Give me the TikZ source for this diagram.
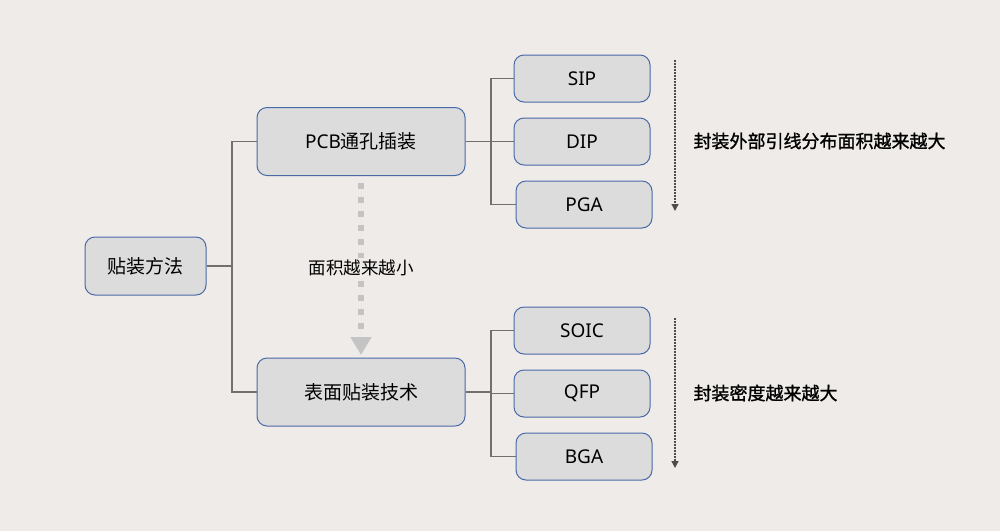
\documentclass[tikz,border=0pt]{standalone}
\usepackage{fontspec}
\setmainfont{Noto Sans CJK SC}
\newfontfamily\lat{Noto Sans}
\newfontfamily\cjkmed[FakeBold=1.2]{Noto Sans CJK SC}
\usetikzlibrary{arrows.meta}
\definecolor{bgc}{HTML}{EEEBE8}
\definecolor{boxfill}{HTML}{DCDCDC}
\definecolor{boxline}{HTML}{4A69A8}
\definecolor{connc}{HTML}{707070}
\definecolor{bigarrow}{HTML}{C4C4C4}
\tikzset{
  box/.style={draw=boxline, fill=boxfill, line width=1pt, rounded corners=10pt, font=\fontsize{19}{22}\selectfont, text=black},
  leaf/.style={box, minimum width=136pt, minimum height=47pt, font=\fontsize{19}{22}\selectfont\lat},
  mid/.style={box, minimum width=208pt, minimum height=68pt},
  conn/.style={draw=connc, line width=1.2pt},
  thinarrow/.style={draw=black!70, line width=1.3pt, dash pattern=on 1.5pt off 1.5pt, -{Triangle[width=7pt,length=7pt]}},
  note/.style={font=\fontsize{18}{21}\selectfont\cjkmed, anchor=west, text=black},
}
\begin{document}
\begin{tikzpicture}[x=1pt,y=-1pt]
\fill[bgc] (0,0) rectangle (1000,531);
\useasboundingbox (0,0) rectangle (1000,531);

\node[box, minimum width=121pt, minimum height=58pt] (root) at (145.5,266) {贴装方法};
\node[mid] (pcb) at (361,141.5) {{\lat PCB}通孔插装};
\node[mid] (smt) at (361,392) {表面贴装技术};

\node[leaf] (sip) at (582,78.5) {SIP};
\node[leaf] (dip) at (582,141.5) {DIP};
\node[leaf] (pga) at (584,204.5) {PGA};
\node[leaf] (soic) at (582,330.5) {SOIC};
\node[leaf] (qfp) at (582,393.5) {QFP};
\node[leaf] (bga) at (584,456.5) {BGA};

\coordinate (j1) at (232,266);
\coordinate (j2) at (491,141.5);
\coordinate (j3) at (491,392);

\draw[conn] (root.east) -- (j1);
\draw[conn] (j1) |- (pcb.west);
\draw[conn] (j1) |- (smt.west);

\draw[conn] (pcb.east) -- (j2);
\draw[conn] (j2) |- (sip.west);
\draw[conn] (j2) |- (dip.west);
\draw[conn] (j2) |- (pga.west);

\draw[conn] (smt.east) -- (j3);
\draw[conn] (j3) |- (soic.west);
\draw[conn] (j3) |- (qfp.west);
\draw[conn] (j3) |- (bga.west);

\coordinate (ba1) at (361,183);
\coordinate (ba2) at (361,355);
\draw[bigarrow, line width=6pt, dash pattern=on 6pt off 8pt, -{Triangle[width=20pt,length=18pt]}, fill=bigarrow] (ba1) -- (ba2);
\node[fill=bgc, inner sep=2pt, font=\fontsize{17.5}{20}\selectfont] (lbl) at (361,268) {面积越来越小};

\coordinate (a1s) at (675,60);
\coordinate (a1e) at (675,211);
\coordinate (a2s) at (675,318);
\coordinate (a2e) at (675,468);
\draw[thinarrow] (a1s) -- (a1e);
\draw[thinarrow] (a2s) -- (a2e);

\node[note] (n1) at (690,141) {封装外部引线分布面积越来越大};
\node[note] (n2) at (690,393) {封装密度越来越大};
\end{tikzpicture}
\end{document}
